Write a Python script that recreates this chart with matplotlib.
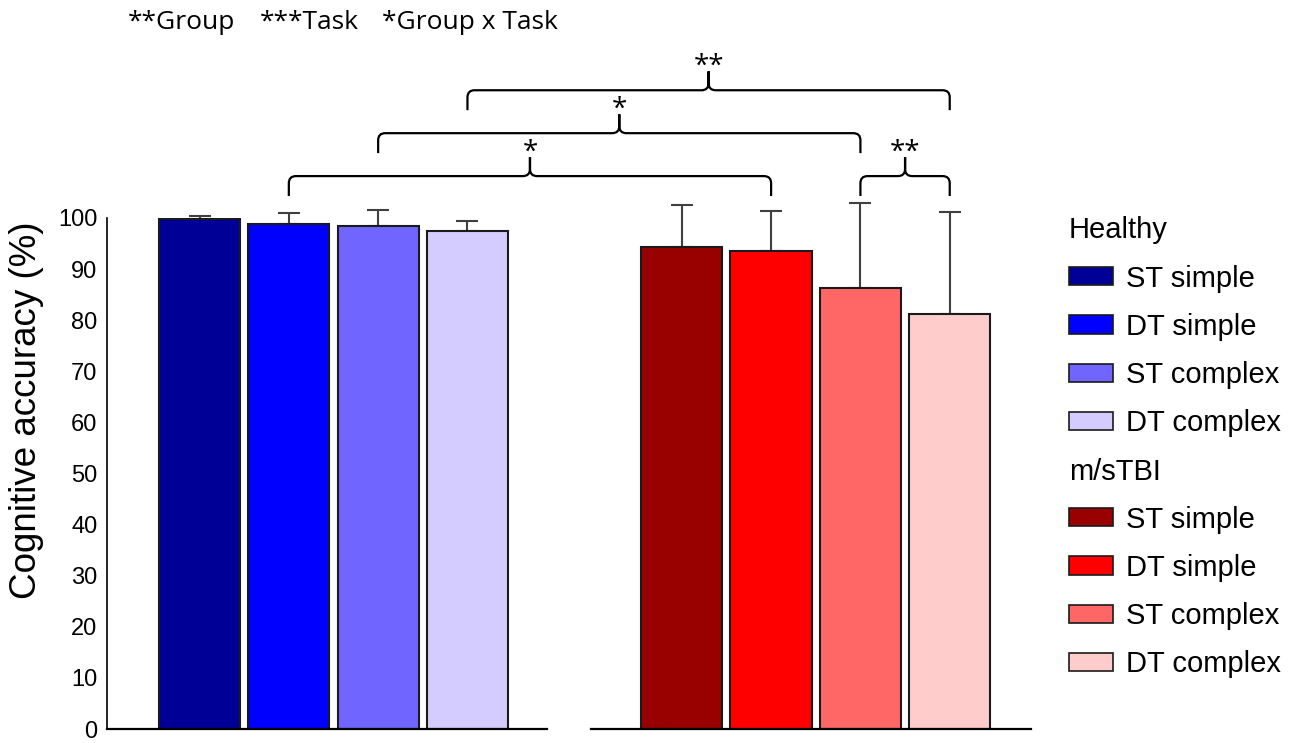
import numpy as np
import matplotlib.pyplot as plt
from matplotlib.path import Path
from matplotlib.patches import PathPatch, Patch

plt.rcParams['font.family'] = ['Liberation Sans', 'DejaVu Sans']

conditions = ["ST simple", "DT simple", "ST complex", "DT complex"]
groups = ["Healthy", "m/sTBI"]

healthy_mean = [99.8, 98.9, 98.4, 97.5]
healthy_sd = [0.6, 2.0, 3.1, 2.0]
tbi_mean = [94.3, 93.6, 86.3, 81.2]
tbi_sd = [8.2, 7.7, 16.7, 19.9]

healthy_colors = ["#000096", "#0000ff", "#7066ff", "#d4ccff"]
tbi_colors = ["#990000", "#ff0000", "#ff6666", "#ffcccc"]

# post-hoc comparisons: (group, condition) vs (group, condition), label
comparisons = [
    ((0, 1), (1, 1), "*"),
    ((0, 2), (1, 2), "*"),
    ((0, 3), (1, 3), "**"),
    ((1, 2), (1, 3), "**"),
]
anova_labels = ["**Group", "***Task", "*Group x Task"]

W, H = 1309, 743
fig = plt.figure(figsize=(W / 100, H / 100), dpi=100)
ax = fig.add_axes([107 / W, (H - 729) / H, (1031 - 107) / W, 511 / H])

x_h = np.arange(4)
x_t = np.arange(4) + 5.4
xpos = [x_h, x_t]
bw = 0.91

for xs, m, sd, cols in [(x_h, healthy_mean, healthy_sd, healthy_colors),
                        (x_t, tbi_mean, tbi_sd, tbi_colors)]:
    ax.bar(xs, m, width=bw, color=cols, edgecolor="#1a1a1a", lw=1.5, zorder=2)
    eb = ax.errorbar(xs, m, yerr=[np.zeros(len(m)), sd], fmt="none",
                     ecolor="#404040", elinewidth=1.5, capsize=8, capthick=1.5,
                     zorder=1)
    for art in eb.lines[1] + eb.lines[2]:
        art.set_clip_on(False)

ax.set_xlim(-1.036, 9.31)
ax.set_ylim(0, 100)
ax.set_yticks(range(0, 101, 10))
ax.set_xticks([])
ax.tick_params(axis="y", length=0, pad=7, labelsize=17)
for s in ["top", "right", "bottom"]:
    ax.spines[s].set_visible(False)
ax.spines["left"].set_linewidth(1.2)
# broken x axis, one segment per group
ax.plot([-1.036, 3.89], [0, 0], color="k", lw=1.6, clip_on=False, zorder=3)
ax.plot([4.38, 9.31], [0, 0], color="k", lw=1.6, clip_on=False, zorder=3)

fig.text(27 / W, 1 - 410 / H, "Cognitive accuracy (%)", rotation=90,
         ha="center", va="center", fontsize=26.5)


def brace(ax, x0, x1, y, drop=3.9, notch=3.7, rx=0.08, ry=1.4):
    xm = (x0 + x1) / 2
    verts = [(x0, y - drop), (x0, y - ry), (x0, y), (x0 + rx, y),
             (xm - rx, y), (xm, y), (xm, y + ry), (xm, y + notch),
             (xm, y + ry), (xm, y), (xm + rx, y),
             (x1 - rx, y), (x1, y), (x1, y - ry), (x1, y - drop)]
    codes = [Path.MOVETO, Path.LINETO, Path.CURVE3, Path.CURVE3,
             Path.LINETO, Path.CURVE3, Path.CURVE3, Path.LINETO,
             Path.LINETO, Path.CURVE3, Path.CURVE3,
             Path.LINETO, Path.CURVE3, Path.CURVE3, Path.LINETO]
    ax.add_patch(PathPatch(Path(verts, codes), fill=False, lw=1.6,
                           color="k", clip_on=False))
    return xm


levels = [108.2, 116.6, 125.0, 108.2]
for (a, b, lab), lev in zip(comparisons, levels):
    x0 = xpos[a[0]][a[1]]
    x1 = xpos[b[0]][b[1]]
    xm = brace(ax, x0, x1, lev)
    ax.text(xm, lev + 3.2, lab, ha="center", va="baseline", fontsize=20,
            family="Open Sans", clip_on=False)

for lab, px in zip(anova_labels, [128, 260, 382]):
    fig.text(px / W, 1 - 29 / H, lab, fontsize=19, family="Open Sans",
             va="baseline", ha="left")

# legend: one block per group
for g, cols, top in zip(groups, [healthy_colors, tbi_colors], [216.5, 457.5]):
    handles = [Patch(facecolor=c, edgecolor="#1a1a1a", lw=1.2) for c in cols]
    fig.legend(handles, conditions, title=g, loc="upper left",
               bbox_to_anchor=(1069 / W, 1 - top / H), frameon=False,
               fontsize=21, title_fontsize=21, alignment="left",
               handlelength=1.5, handleheight=0.58, handletextpad=0.45,
               labelspacing=0.69, borderpad=0, borderaxespad=0)

fig.savefig("out.png", dpi=100)
